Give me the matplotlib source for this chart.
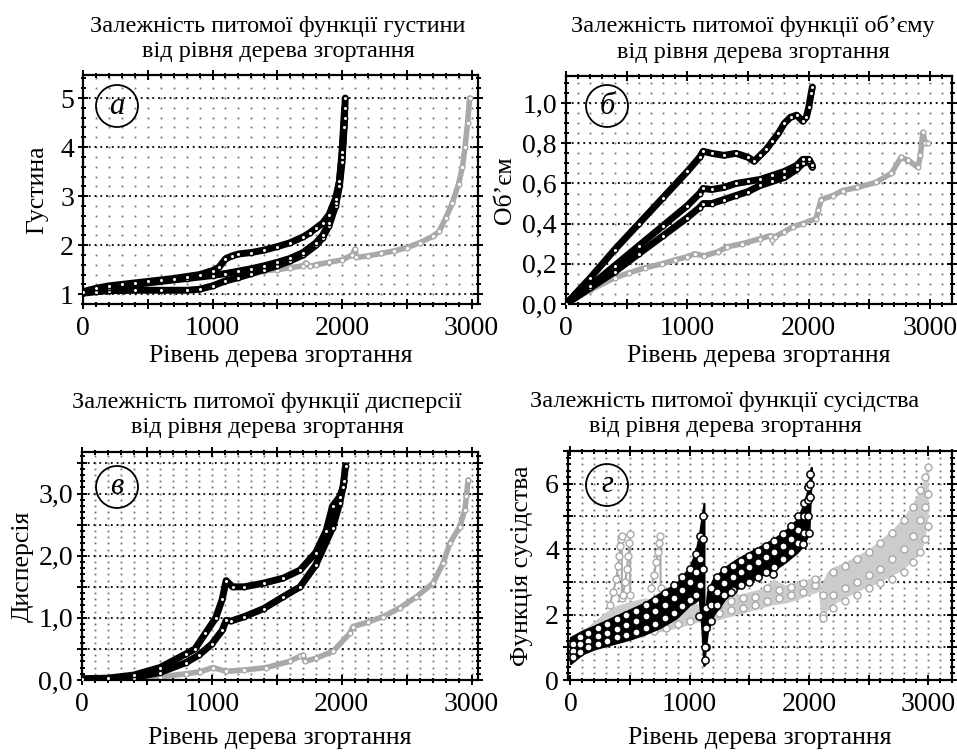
import numpy as np
import matplotlib
matplotlib.use("Agg")
import matplotlib.pyplot as plt
from matplotlib.ticker import MultipleLocator, FuncFormatter
from matplotlib.patches import Ellipse

plt.rcParams['font.family'] = ['Liberation Serif', 'DejaVu Serif']

# ---------- data ----------
# (а) density
a_up_x = [0, 100, 200, 300, 400, 500, 600, 700, 800, 900, 1000, 1050, 1100, 1150, 1200, 1300,
          1400, 1500, 1600, 1700, 1750, 1800, 1850, 1900, 1950, 1980, 2000, 2015, 2025]
a_up_y = [1.05, 1.12, 1.17, 1.2, 1.23, 1.26, 1.29, 1.32, 1.36, 1.4, 1.48, 1.55, 1.72, 1.78, 1.82, 1.85,
          1.9, 1.97, 2.05, 2.17, 2.25, 2.35, 2.45, 2.62, 2.95, 3.3, 3.8, 4.4, 5.0]
a_mid_x = [0, 200, 400, 600, 800, 1000, 1100, 1200, 1300, 1400, 1500, 1600, 1700, 1800, 1850,
           1900, 1950, 1980, 2000, 2020]
a_mid_y = [1.03, 1.13, 1.2, 1.26, 1.32, 1.38, 1.42, 1.47, 1.52, 1.58, 1.65, 1.73, 1.85, 2.05, 2.2,
           2.45, 2.85, 3.3, 3.9, 4.8]
a_low_x = [0, 100, 200, 400, 600, 800, 900, 1000, 1100, 1200, 1300, 1400, 1500, 1600, 1700, 1800,
           1850, 1900, 1950, 1980, 2000, 2020]
a_low_y = [1.02, 1.05, 1.07, 1.08, 1.08, 1.08, 1.1, 1.17, 1.27, 1.34, 1.42, 1.5, 1.58, 1.68, 1.8, 2.0,
           2.15, 2.4, 2.8, 3.2, 3.7, 4.6]
a_gray_x = [0, 200, 400, 600, 800, 1000, 1200, 1400, 1500, 1600, 1700, 1720, 1750, 1800, 1900, 2000,
            2080, 2100, 2110, 2200, 2300, 2400, 2500, 2600, 2700, 2750, 2800, 2850, 2900, 2930,
            2950, 2970, 2985]
a_gray_y = [1.02, 1.1, 1.18, 1.26, 1.34, 1.42, 1.45, 1.48, 1.5, 1.54, 1.58, 1.64, 1.57, 1.6, 1.65, 1.7,
            1.8, 1.92, 1.75, 1.78, 1.83, 1.88, 1.95, 2.05, 2.18, 2.28, 2.55, 2.85, 3.25, 3.6,
            4.0, 4.5, 5.0]

# (б) volume
b_up_x = [0, 200, 400, 600, 800, 1000, 1100, 1130, 1200, 1300, 1400, 1500, 1550, 1600, 1650, 1700,
          1750, 1800, 1850, 1900, 1950, 1980, 2000, 2020, 2030]
b_up_y = [0, 0.13, 0.27, 0.4, 0.53, 0.66, 0.73, 0.76, 0.75, 0.74, 0.75, 0.73, 0.71, 0.74, 0.77, 0.81,
          0.85, 0.9, 0.93, 0.94, 0.91, 0.93, 0.98, 1.05, 1.08]
b_mid_x = [0, 200, 400, 600, 800, 1000, 1100, 1130, 1200, 1300, 1400, 1500, 1600, 1700, 1800, 1900,
           1950, 2000, 2030]
b_mid_y = [0, 0.09, 0.19, 0.29, 0.39, 0.49, 0.55, 0.575, 0.57, 0.58, 0.6, 0.61, 0.62, 0.64, 0.66, 0.69,
           0.72, 0.72, 0.69]
b_low_x = [0, 200, 400, 600, 800, 1000, 1100, 1130, 1200, 1300, 1400, 1500, 1600, 1700, 1800, 1900,
           1950, 2000, 2030]
b_low_y = [0, 0.08, 0.16, 0.25, 0.34, 0.43, 0.48, 0.5, 0.5, 0.52, 0.54, 0.56, 0.59, 0.61, 0.63, 0.67,
           0.7, 0.71, 0.68]
b_gray_x = [0, 200, 400, 520, 650, 790, 900, 1000, 1060, 1140, 1250, 1330, 1450, 1600, 1680, 1700,
            1720, 1800, 1870, 1950, 2060, 2080, 2100, 2200, 2280, 2400, 2550, 2680, 2760, 2820,
            2900, 2920, 2940, 2960, 2980]
b_gray_y = [0, 0.07, 0.13, 0.155, 0.18, 0.2, 0.22, 0.235, 0.25, 0.24, 0.26, 0.285, 0.3, 0.325, 0.34,
            0.32, 0.335, 0.36, 0.385, 0.4, 0.425, 0.47, 0.52, 0.54, 0.565, 0.58, 0.605, 0.65, 0.73,
            0.715, 0.68, 0.74, 0.855, 0.8, 0.8]

# (в) dispersion
c_up_x = [0, 200, 400, 600, 800, 870, 950, 1030, 1080, 1110, 1160, 1250, 1400, 1550, 1680, 1800,
          1880, 1930, 1985, 2010, 2030]
c_up_y = [0.02, 0.03, 0.08, 0.2, 0.42, 0.5, 0.75, 1.0, 1.3, 1.6, 1.5, 1.5, 1.56, 1.64, 1.77, 2.05,
          2.4, 2.8, 2.95, 3.1, 3.45]
c_low_x = [0, 400, 600, 800, 900, 1000, 1080, 1110, 1150, 1250, 1400, 1550, 1680, 1800, 1930, 1985,
           2020]
c_low_y = [0.01, 0.04, 0.12, 0.28, 0.4, 0.58, 0.8, 0.96, 0.95, 1.02, 1.15, 1.34, 1.5, 1.85, 2.45,
           2.85, 3.2]
c_gray_x = [0, 400, 600, 800, 905, 1008, 1110, 1250, 1419, 1600, 1676, 1700, 1720, 1800, 1933, 2062,
            2087, 2200, 2319, 2447, 2576, 2704, 2781, 2833, 2910, 2949, 2961, 2974]
c_gray_y = [0.0, 0.02, 0.05, 0.1, 0.13, 0.2, 0.14, 0.16, 0.2, 0.3, 0.38, 0.4, 0.3, 0.35, 0.46, 0.75,
            0.86, 0.93, 1.02, 1.16, 1.34, 1.56, 1.88, 2.2, 2.47, 2.74, 2.96, 3.22]

# (г) neighbourhood function, black bands
d_b1_x = [0, 100, 200, 350, 500, 620, 750, 890, 1000, 1050, 1080, 1100, 1120]
d_b1_hi = [1.3, 1.5, 1.65, 1.9, 2.15, 2.35, 2.65, 2.95, 3.45, 3.9, 4.4, 4.9, 5.4]
d_b1_lo = [0.5, 0.8, 0.95, 1.1, 1.25, 1.4, 1.6, 1.9, 2.3, 2.4, 2.5, 1.7, 0.45]
d_s1_x = [20, 80, 150, 230, 310, 390, 470, 550, 630, 710, 790, 870, 940, 1000, 1050, 1090, 1110]
d_s1_a = [1.1, 1.3, 1.45, 1.6, 1.72, 1.85, 1.98, 2.12, 2.28, 2.45, 2.65, 2.9, 3.15, 3.4, 3.85, 4.4, 5.0]
d_s1_b = [0.9, 1.1, 1.2, 1.35, 1.45, 1.55, 1.68, 1.8, 1.95, 2.1, 2.28, 2.5, 2.75, 3.0, 3.3, 3.7, 4.3]
d_s1_c = [0.7, 0.85, 1.0, 1.1, 1.18, 1.3, 1.38, 1.48, 1.6, 1.72, 1.88, 2.05, 2.25, 2.45, 2.6, 2.9, 3.4]
d_b2_x = [1120, 1130, 1150, 1200, 1300, 1400, 1500, 1600, 1700, 1800, 1900, 1950, 2000, 2020]
d_b2_hi = [0.45, 2.0, 2.7, 3.1, 3.45, 3.7, 3.9, 4.1, 4.3, 4.55, 4.9, 5.3, 5.9, 6.5]
d_b2_lo = [0.45, 0.9, 1.5, 2.0, 2.5, 2.8, 3.0, 3.2, 3.35, 3.6, 3.9, 4.1, 4.5, 6.3]
d_s2_x = [1140, 1180, 1230, 1290, 1360, 1430, 1500, 1570, 1640, 1710, 1780, 1850, 1910, 1960, 1990, 2010]
d_s2_a = [2.2, 2.8, 3.15, 3.35, 3.5, 3.65, 3.8, 3.95, 4.1, 4.25, 4.45, 4.7, 5.0, 5.4, 5.9, 6.3]
d_s2_b = [1.6, 2.3, 2.7, 2.95, 3.15, 3.3, 3.45, 3.6, 3.75, 3.9, 4.1, 4.3, 4.6, 5.0, 5.5, 6.0]
d_s2_c = [1.0, 1.8, 2.3, 2.6, 2.75, 2.9, 3.0, 3.15, 3.3, 3.45, 3.7, 3.9, 4.2, 4.5, 5.0, 5.6]
d_out_x = [1080, 1350, 1700, 1950, 2000, 1130, 1125]
d_out_y = [1.95, 2.7, 3.25, 4.15, 4.5, 1.0, 0.6]

# (г) grey bands
d_g1_x = [0, 100, 200, 300, 400, 500, 600, 700, 800, 900, 1000, 1100, 1150]
d_g1_hi = [1.2, 1.5, 1.8, 2.1, 2.3, 2.4, 2.5, 2.5, 2.6, 2.5, 2.4, 2.3, 2.2]
d_g1_lo = [0.8, 0.9, 1.0, 1.1, 1.2, 1.3, 1.4, 1.45, 1.5, 1.6, 1.7, 1.8, 1.9]
d_gs1_x = [20, 100, 200, 300, 400, 500, 600, 700, 800, 900, 1000, 1100]
d_gs1_y = [0.75, 0.95, 1.05, 1.15, 1.25, 1.35, 1.45, 1.5, 1.6, 1.7, 1.8, 1.9]
d_sp1_x = [330, 360, 385, 400, 410, 420, 425, 430, 432]
d_sp1_y = [2.3, 2.7, 3.1, 3.5, 3.8, 4.1, 4.3, 4.4, 2.5]
d_sp2_x = [440, 460, 475, 485, 495, 500, 502]
d_sp2_y = [2.6, 3.0, 3.4, 3.8, 4.2, 4.45, 2.6]
d_sp3_x = [680, 700, 720, 735, 745, 755, 757]
d_sp3_y = [2.8, 3.2, 3.6, 3.9, 4.2, 4.4, 2.8]
d_g2_x = [1150, 1200, 1300, 1400, 1500, 1600, 1700, 1800, 1900, 2000, 2080, 2100]
d_g2_hi = [2.2, 2.4, 2.5, 2.6, 2.7, 2.8, 3.1, 2.9, 3.0, 3.1, 3.2, 3.2]
d_g2_lo = [1.7, 1.8, 1.9, 2.0, 2.1, 2.2, 2.3, 2.35, 2.45, 2.6, 2.7, 1.9]
d_gs2_x = [1160, 1250, 1350, 1450, 1550, 1650, 1750, 1850, 1950, 2050]
d_gs2_a = [1.9, 2.05, 2.15, 2.2, 2.3, 2.4, 2.5, 2.6, 2.7, 2.9]
d_gs2_b = [2.1, 2.3, 2.4, 2.5, 2.55, 2.8, 2.75, 2.85, 2.95, 3.1]
d_g3_x = [2100, 2150, 2200, 2300, 2400, 2500, 2600, 2700, 2800, 2850, 2900, 2950, 2980, 3000]
d_g3_hi = [2.9, 3.3, 3.45, 3.6, 3.8, 4.0, 4.3, 4.6, 5.0, 5.3, 5.6, 6.0, 6.4, 6.5]
d_g3_lo = [1.9, 2.1, 2.3, 2.5, 2.7, 2.85, 3.0, 3.2, 3.4, 3.6, 3.8, 4.0, 4.5, 5.0]
d_gs3_x = [2120, 2200, 2300, 2400, 2500, 2600, 2700, 2800, 2870, 2930, 2970, 3000]
d_gs3_a = [2.6, 3.3, 3.5, 3.7, 3.9, 4.2, 4.5, 4.9, 5.3, 5.8, 6.2, 6.5]
d_gs3_b = [2.0, 2.6, 2.8, 3.0, 3.2, 3.4, 3.7, 4.0, 4.4, 4.9, 5.3, 5.7]
d_gs3_c = [1.9, 2.2, 2.4, 2.6, 2.8, 2.95, 3.1, 3.3, 3.6, 3.9, 4.3, 4.7]

titles = ["Залежність питомої функції густини\nвід рівня дерева згортання",
          "Залежність питомої функції об’єму\nвід рівня дерева згортання",
          "Залежність питомої функції дисперсії\nвід рівня дерева згортання",
          "Залежність питомої функції сусідства\nвід рівня дерева згортання"]
ylabels = ["Густина", "Об’єм", "Дисперсія", "Функція сусідства"]
letters = ["а", "б", "в", "г"]
xlabel = "Рівень дерева згортання"

GRAY = '#a9a9a9'
W, H = 957, 752
fig = plt.figure(figsize=(W / 100, H / 100), dpi=100)


def make_axes(left, top, right, bottom):
    return fig.add_axes([left / W, 1 - bottom / H, (right - left) / W, (bottom - top) / H])


def comma(fmt, step=None):
    def f(v, p):
        if step is not None and abs(v / step - round(v / step)) > 1e-6:
            return ""
        return (fmt % v).replace('.', ',')
    return FuncFormatter(f)


def decorate(ax, box, xlim, ylim, ymaj, ymin, yfmt, ylab_x, xlab_y, letter, circ):
    left, top, right, bottom = box
    wpx, hpx = right - left, bottom - top
    ax.set_xlim(*xlim)
    ax.set_ylim(*ylim)
    ax.xaxis.set_major_locator(MultipleLocator(500))
    ax.xaxis.set_minor_locator(MultipleLocator(100))
    ax.xaxis.set_major_formatter(FuncFormatter(lambda v, p: "%d" % v if abs(v % 1000) < 1e-6 else ""))
    ax.yaxis.set_major_locator(MultipleLocator(ymaj))
    ax.yaxis.set_minor_locator(MultipleLocator(ymin))
    ax.yaxis.set_major_formatter(yfmt)
    ax.tick_params(which='both', direction='inout', top=True, right=True, width=1.4,
                   labelsize=20, colors='black')
    ax.tick_params(which='major', length=7)
    ax.tick_params(which='minor', length=3.6)
    ax.tick_params(axis='x', pad=5)
    ax.tick_params(axis='y', pad=3)
    for s in ax.spines.values():
        s.set_linewidth(1.6)
    # dotted grid: dots at minor intersections, dotted lines at major y
    gx = np.arange(100, xlim[1], 100)
    y0 = np.ceil(ylim[0] / ymin) * ymin
    gy = np.arange(y0, ylim[1], ymin)
    GX, GY = np.meshgrid(gx, gy)
    ax.plot(GX.ravel(), GY.ravel(), ls='none', marker='s', ms=1.3, mew=0, color='0.45', zorder=0)
    for yv in np.arange(np.ceil(ylim[0] / ymaj) * ymaj, ylim[1], ymaj):
        if yv - ylim[0] > 1e-6:
            ax.axhline(yv, color='black', lw=1.3, ls=(0, (1, 2.2)), zorder=0.5)
    ax.set_ylabel(ax.get_ylabel(), fontsize=18.5)
    ax.yaxis.label.set_va('center')
    ax.yaxis.set_label_coords((ylab_x - left) / wpx, 0.5)
    ax.set_xlabel(xlabel, fontsize=18.5, va='center')
    ax.xaxis.set_label_coords(0.5, -(xlab_y - bottom) / hpx)
    cx, cy = circ
    ax.add_patch(Ellipse(((cx) / wpx, 1 - cy / hpx), 42 / wpx, 42 / hpx, transform=ax.transAxes,
                         fill=False, ec='black', lw=1.3, zorder=5))
    ax.text(cx / wpx, 1 - cy / hpx, letter, transform=ax.transAxes, ha='center', va='center',
            fontsize=22, style='italic', zorder=6)


def black_curve(ax, x, y):
    ax.plot(x, y, color='black', lw=5, solid_capstyle='round', zorder=3)
    ax.plot(x, y, ls='none', marker='o', ms=3.2, mfc='white', mec='black', mew=1.0, zorder=4)


def gray_curve(ax, x, y):
    ax.plot(x, y, color=GRAY, lw=4, solid_capstyle='round', zorder=2)
    ax.plot(x, y, ls='none', marker='o', ms=3.4, mfc='white', mec=GRAY, mew=1.0, zorder=2.5)


boxes = [(83, 75, 478, 304), (566, 76, 952, 304), (82, 452, 478, 680), (568, 451, 952, 680)]
title_pos = [(278, 39), (753, 39), (267, 415), (725, 414)]

# (а)
ax = make_axes(*boxes[0])
gray_curve(ax, a_gray_x, a_gray_y)
for xs, ys in [(a_low_x, a_low_y), (a_mid_x, a_mid_y), (a_up_x, a_up_y)]:
    black_curve(ax, xs, ys)
ax.set_ylabel(ylabels[0])
decorate(ax, boxes[0], (0, 3050), (0.8, 5.47), 1, 0.2, comma("%d"), 37, 356,
         letters[0], (34, 31))

# (б)
ax = make_axes(*boxes[1])
gray_curve(ax, b_gray_x, b_gray_y)
for xs, ys in [(b_low_x, b_low_y), (b_mid_x, b_mid_y), (b_up_x, b_up_y)]:
    black_curve(ax, xs, ys)
ax.set_ylabel(ylabels[1])
decorate(ax, boxes[1], (0, 3180), (0, 1.135), 0.2, 0.05, comma("%.1f"), 505, 356,
         letters[1], (41, 30))

# (в)
ax = make_axes(*boxes[2])
gray_curve(ax, c_gray_x, c_gray_y)
for xs, ys in [(c_low_x, c_low_y), (c_up_x, c_up_y)]:
    black_curve(ax, xs, ys)
ax.set_ylabel(ylabels[2])
decorate(ax, boxes[2], (0, 3050), (0, 3.67), 0.5, 0.1, comma("%.1f", 1.0), 23, 738,
         letters[2], (35, 35))

# (г)
ax = make_axes(*boxes[3])
gkw = dict(ls='none', marker='o', ms=5, mfc='white', mec=GRAY, mew=1.0, zorder=2.5)
for xs, lo, hi in [(d_g1_x, d_g1_lo, d_g1_hi), (d_g2_x, d_g2_lo, d_g2_hi), (d_g3_x, d_g3_lo, d_g3_hi)]:
    ax.fill_between(xs, lo, hi, color='#cccccc', lw=0, zorder=2)
for xs, ys in [(d_sp1_x, d_sp1_y), (d_sp2_x, d_sp2_y), (d_sp3_x, d_sp3_y)]:
    ax.plot(xs, ys, color=GRAY, lw=1.5, zorder=2)
    ax.plot(xs, ys, **gkw)
for xs, ys in [(d_gs1_x, d_gs1_y), (d_gs2_x, d_gs2_a), (d_gs2_x, d_gs2_b),
               (d_gs3_x, d_gs3_a), (d_gs3_x, d_gs3_b), (d_gs3_x, d_gs3_c)]:
    ax.plot(xs, ys, **gkw)
for xs, lo, hi in [(d_b1_x, d_b1_lo, d_b1_hi), (d_b2_x, d_b2_lo, d_b2_hi)]:
    ax.fill_between(xs, lo, hi, color='black', lw=1.5, ec='black', zorder=3)
bkw = dict(ls='none', marker='o', ms=5.2, mfc='white', mec='black', mew=1.1, zorder=4)
for ys in [d_s1_a, d_s1_b, d_s1_c]:
    ax.plot(d_s1_x, ys, **bkw)
for ys in [d_s2_a, d_s2_b, d_s2_c]:
    ax.plot(d_s2_x, ys, **bkw)
ax.plot(d_out_x, d_out_y, **bkw)
ax.set_ylabel(ylabels[3])
decorate(ax, boxes[3], (-20, 3200), (0, 7.0), 1, 0.2, comma("%d", 2.0), 522, 738,
         letters[3], (39, 34))

for (tx, ty), t in zip(title_pos, titles):
    fig.text(tx / W, 1 - ty / H, t, ha='center', va='center', fontsize=17.5, linespacing=1.3)

fig.savefig("out.png", dpi=100)
